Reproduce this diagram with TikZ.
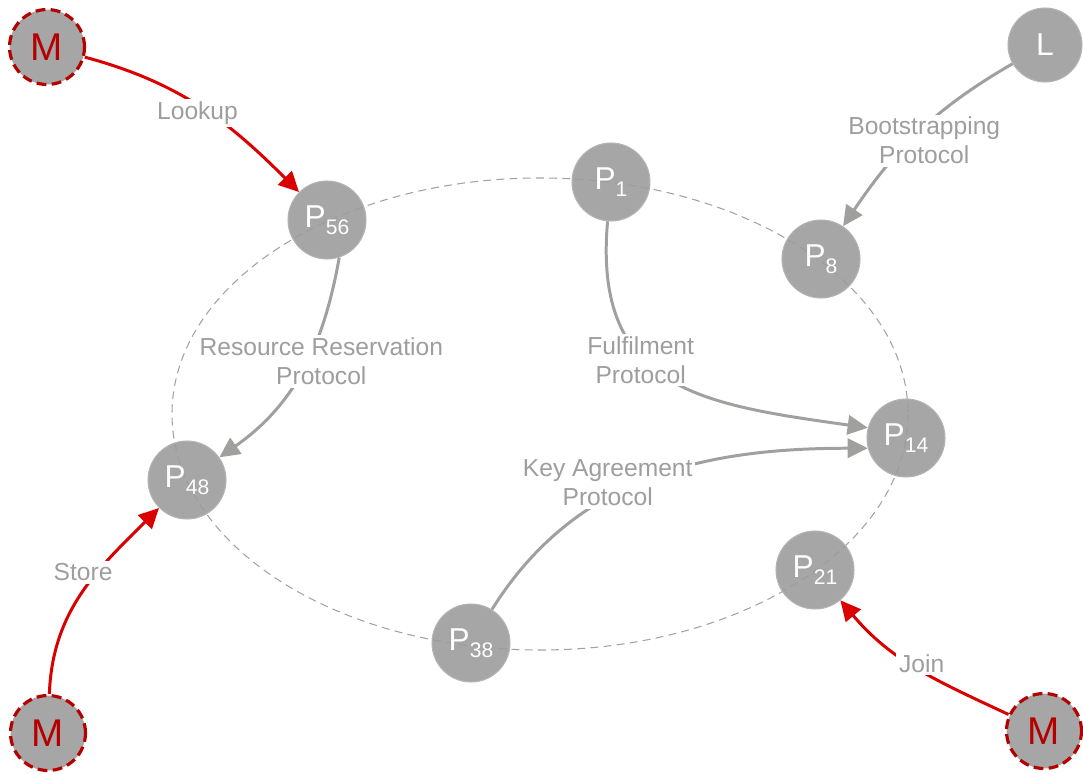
\documentclass[tikz,border=0pt]{standalone}
\usepackage{fontspec}
\setmainfont{Liberation Sans}
\usetikzlibrary{arrows.meta}
\definecolor{peerfill}{HTML}{9C9C9C}
\definecolor{malfill}{HTML}{A6A6A6}
\definecolor{peerline}{HTML}{B4B4B4}
\definecolor{ringgray}{HTML}{A2A2A2}
\definecolor{linkgray}{HTML}{A0A09E}
\definecolor{txtgray}{HTML}{9E9E9E}
\definecolor{mal}{HTML}{B50000}
\definecolor{malline}{HTML}{DA0000}
\tikzset{peer/.style={circle,fill=peerfill,fill opacity=.9,text opacity=1,draw=peerline,line width=.6pt,minimum size=1.56cm,inner sep=0pt,text=white,font=\fontsize{18}{18}\selectfont},
 malnode/.style={circle,fill=malfill,draw=mal,line width=1.8pt,dash pattern=on 5.6pt off 3pt,minimum size=1.5cm,inner sep=0pt,text=mal,font=\fontsize{22}{22}\selectfont},
 ring/.style={draw=ringgray,line width=.6pt,dash pattern=on 4.5pt off 3pt},
 protoline/.style={draw=linkgray,line width=1.7pt,-{Triangle[length=11.5pt,width=11pt]}},
 attackline/.style={draw=malline,line width=1.7pt,-{Triangle[length=11.5pt,width=11pt]}},
 lbl/.style={fill=white,inner sep=1.5pt,align=center,text=txtgray,font=\fontsize{14}{16.5}\selectfont}}
\newcommand{\pid}[1]{P\raisebox{-.45ex}{\fontsize{12}{12}\selectfont#1}}
\begin{document}
\begin{tikzpicture}[x=0.02cm,y=-0.02cm]
\useasboundingbox (0,0) rectangle (1083,774);
% ring
\draw[ring] (540,414) ellipse [x radius=368,y radius=236];
% peers
\node[peer] (p1) at (611,182) {\pid{1}};
\node[peer] (p8) at (821,259) {\pid{8}};
\node[peer] (p14) at (906,438) {\pid{14}};
\node[peer] (p21) at (815,570) {\pid{21}};
\node[peer] (p38) at (471,643) {\pid{38}};
\node[peer] (p48) at (187,480) {\pid{48}};
\node[peer] (p56) at (327,220) {\pid{56}};
\node[peer,minimum size=1.48cm] (lnode) at (1045,45) {L};
% malicious peers
\node[malnode] (mtop) at (47,47) {M};
\node[malnode] (mleft) at (48,733) {M};
\node[malnode] (mright) at (1044,731) {M};
% protocols
\draw[protoline] (lnode) to[out=210,in=56] node[lbl,xshift=.14cm,yshift=-.14cm]{Bootstrapping\\Protocol} (p8);
\draw[protoline] (p56.-72) to[out=-100,in=35] node[lbl,pos=.5,xshift=.4cm,yshift=.2cm]{Resource Reservation\\Protocol} (p48);
\draw[protoline] (p1) to[out=-95,in=172,looseness=1.3] node[lbl,pos=.4,xshift=-.08cm]{Fulfilment\\Protocol} (p14.165);
\draw[protoline] (p38) to[out=58,in=180] node[lbl,pos=.38,yshift=.3cm]{Key Agreement\\Protocol} (p14.195);
% attacks
\draw[attackline] (mtop) to[out=-15,in=135] node[lbl,xshift=-.08cm,yshift=-.1cm]{Lookup} (p56);
\draw[attackline] (mleft) to[out=88,in=225] node[lbl,pos=.55,xshift=-.12cm,yshift=.22cm]{Store} (p48);
\draw[attackline] (mright) to[out=155,in=-50] node[lbl,xshift=.1cm,yshift=.08cm]{Join} (p21);
\end{tikzpicture}
\end{document}
